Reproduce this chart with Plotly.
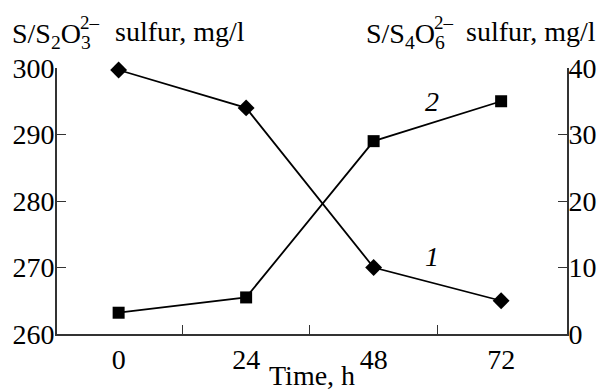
import plotly.graph_objects as go

time_h = [0, 24, 48, 72]
s2o3_sulfur = [299.7, 294.0, 270.0, 265.0]   # curve 1, left axis
s4o6_sulfur = [3.2, 5.5, 29.0, 35.0]         # curve 2, right axis
x_tick_labels = ["0", "24", "48", "72"]
left_ticks = [260, 270, 280, 290, 300]
right_ticks = [0, 10, 20, 30, 40]

FONT = "Liberation Serif"
FS = 28
BLACK = "#000000"
AX = "#333333"

# plot area in pixels (used to convert pixel positions of text to paper coords)
L, R, T, B = 57, 567, 68, 334
def px(x):
    return (x - L) / (R - L)
def py(y):
    return (B - y) / (B - T)

fig = go.Figure()
fig.add_trace(go.Scatter(
    x=time_h, y=s2o3_sulfur, mode="lines+markers", cliponaxis=False,
    line=dict(color=BLACK, width=1.8),
    marker=dict(symbol="diamond", size=13, color=BLACK),
    yaxis="y", showlegend=False))
fig.add_trace(go.Scatter(
    x=time_h, y=s4o6_sulfur, mode="lines+markers", cliponaxis=False,
    line=dict(color=BLACK, width=1.8),
    marker=dict(symbol="square", size=12, color=BLACK),
    yaxis="y2", showlegend=False))

axis_common = dict(showgrid=False, zeroline=False, showline=True,
                   linecolor=AX, linewidth=1.6, automargin=False,
                   tickfont=dict(family=FONT, size=FS, color=BLACK))

fig.update_layout(
    width=602, height=391,
    margin=dict(l=L, r=602 - R, t=T, b=391 - B),
    paper_bgcolor="white", plot_bgcolor="white",
    font=dict(family=FONT, size=FS, color=BLACK),
    xaxis=dict(
        range=[-11.6, 84.4], tickvals=time_h, ticktext=x_tick_labels,
        ticks="",
        minor=dict(tickvals=[12, 36, 60], ticks="inside", ticklen=9,
                   tickcolor=AX, tickwidth=1.4, showgrid=False),
        **axis_common,
    ),
    yaxis=dict(
        range=[260, 300], tickvals=left_ticks, ticks="inside", ticklen=9,
        tickcolor=AX, tickwidth=1.4, ticklabelstandoff=-5, **axis_common,
    ),
    yaxis2=dict(
        range=[0, 40], tickvals=right_ticks, ticks="inside", ticklen=9,
        tickcolor=AX, tickwidth=1.4, ticklabelstandoff=-6,
        overlaying="y", side="right", **axis_common,
    ),
)

def ann(text, x, y, xanchor, size=FS, yanchor="middle"):
    fig.add_annotation(xref="paper", yref="paper", x=px(x), y=py(y),
                       xanchor=xanchor, yanchor=yanchor, text=text,
                       showarrow=False, font=dict(family=FONT, size=size))

# left axis title: S/S2O3(2-) sulfur, mg/l with stacked sub/superscript
ann("S/S<sub>2</sub>O<sub>3</sub>", 10, 35, "left")
ann("2–", 78, 22, "left", size=19)
ann("sulfur, mg/l", 113, 32, "left")
# right axis title
ann("S/S<sub>4</sub>O<sub>6</sub>", 364, 35, "left")
ann("2–", 432, 22, "left", size=19)
ann("sulfur, mg/l", 598, 32, "right")
# x axis title
ann("Time, h", 312, 375, "center")

fig.add_annotation(
    x=59, y=294.9, xref="x", yref="y", text="<i>2</i>",
    showarrow=False, font=dict(family=FONT, size=FS))
fig.add_annotation(
    x=59, y=271.6, xref="x", yref="y", text="<i>1</i>",
    showarrow=False, font=dict(family=FONT, size=FS))

fig.write_html("out.html", config={"displayModeBar": False},
               post_script="document.body.style.margin='0';")
